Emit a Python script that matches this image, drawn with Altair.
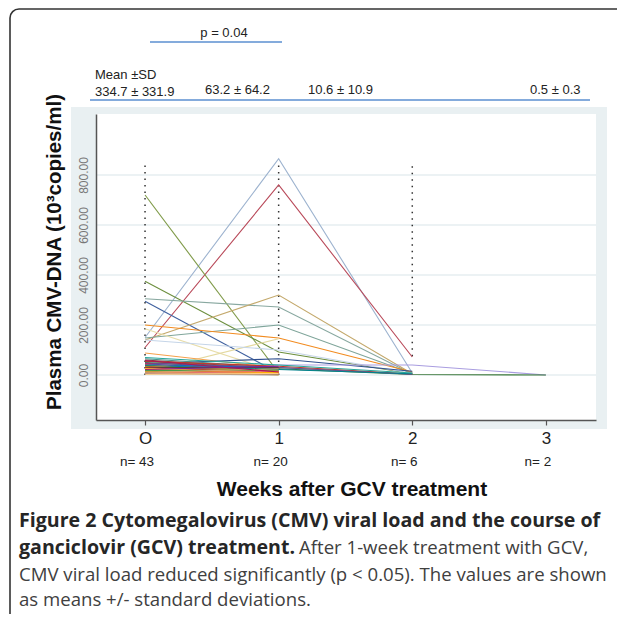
import altair as alt
import pandas as pd

# ---------------- data ----------------
weeks = [0, 1, 2, 3]
week_labels = ["O", "1", "2", "3"]
n_labels = ["n= 43", "n= 20", "n= 6", "n= 2"]
mean_sd = ["334.7 ± 331.9", "63.2 ± 64.2", "10.6 ± 10.9", "0.5 ± 0.3"]
y_ticks = [0, 200, 400, 600, 800]

# per-patient viral load (10^3 copies/ml) at weeks 0,1,2,3
series = [
    [150, 865, 8, None],
    [110, 760, 72, None],
    [720, 8, None, None],
    [375, 92, 5, None],
    [305, 272, 4, None],
    [295, 8, None, None],
    [140, 320, 5, None],
    [148, 200, 6, None],
    [200, 148, 12, None],
    [185, 10, None, None],
    [12, 145, None, None],
    [140, 100, 6, None],
    [88, 28, None, None],
    [45, 65, 15, None],
    [30, 40, 40, 0],
    [55, 25, 2, 0],
    [65, 30, 3, None],
    [60, 25, None, None],
    [55, 35, 4, None],
    [50, 20, None, None],
    [48, 30, 3, None],
    [45, 15, None, None],
    [42, 28, None, None],
    [40, 10, None, None],
    [38, 22, 5, None],
    [35, 5, None, None],
    [33, 18, None, None],
    [30, 30, None, None],
    [28, 12, None, None],
    [26, 0, None, None],
    [25, 8, None, None],
    [22, 35, None, None],
    [20, 5, None, None],
    [18, 20, None, None],
    [15, 3, None, None],
    [12, 10, None, None],
    [10, 25, None, None],
    [8, 2, None, None],
    [6, 15, None, None],
    [5, 0, None, None],
    [3, 6, None, None],
    [70, 40, 8, None],
    [58, 12, None, None],
]
colors = [
    "#9db3cf", "#b94a5a", "#7f9a48", "#6d8f3e", "#88a8a0", "#3e5f9e",
    "#c4a96c", "#7fa59a", "#f28b1f", "#e8dda8", "#e3d9a0", "#c5d5e8",
    "#f5a04a", "#2f4f8f", "#a99de0", "#3d7a3a", "#4a8f8a", "#8b3a3a",
    "#c0392b", "#2e7d32", "#6a4c93", "#d81b60", "#1565c0", "#ef6c00",
    "#00838f", "#b71c1c", "#9e9d24", "#5d4037", "#e53935", "#fdd835",
    "#f9a825", "#7b1fa2", "#c62828", "#43a047", "#8d6e63", "#ffb300",
    "#d4a373", "#bc8a5f", "#e57373", "#a1887f", "#ffcc80", "#26a69a",
    "#ad1457",
]
dot_lo = [0, 0, 75]
dot_hi = [855, 850, 850]

rows = []
for i, vals in enumerate(series):
    for w, v in zip(weeks, vals):
        if v is not None:
            rows.append({"pid": f"p{i:02d}", "week": w, "load": v})
df = pd.DataFrame(rows)
pids = [f"p{i:02d}" for i in range(len(series))]

W, H = 500, 306
XDOM = [-0.367, 3.375]
YDOM = [-180, 1044]
FONT = "Liberation Sans"
CAP = "Open Sans"

one = pd.DataFrame({"a": [0]})
xs = alt.Scale(domain=XDOM, nice=False, zero=False)
ys = alt.Scale(domain=YDOM, nice=False, zero=False)


def box(x, x2, y, y2, **kw):
    return alt.Chart(one).mark_rect(**kw).encode(
        x=alt.value(x), x2=alt.value(x2), y=alt.value(y), y2=alt.value(y2))


def label(text, x, y, **kw):
    return alt.Chart(one).mark_text(text=text, **kw).encode(
        x=alt.value(x), y=alt.value(y))


def hline(x, x2, y, **kw):
    return alt.Chart(one).mark_rule(**kw).encode(
        x=alt.value(x), x2=alt.value(x2), y=alt.value(y))


frame = box(-86, 800, -105, 800, fillOpacity=0, stroke="#333333",
            strokeWidth=1.6, cornerRadius=9)
panel = box(-25, 511, -7, 315, fill="#e9f0f2")
white = box(0, W, 0, H, fill="#ffffff")

grid = alt.Chart(pd.DataFrame({"v": y_ticks})).mark_rule(
    color="#e6eef0", strokeWidth=1.5).encode(
    y=alt.Y("v:Q", scale=ys), x=alt.value(0), x2=alt.value(W))

dots = alt.Chart(pd.DataFrame({"week": weeks[:3], "lo": dot_lo, "hi": dot_hi})).mark_rule(
    color="#333333", strokeWidth=1.5, strokeDash=[1.5, 5]).encode(
    x=alt.X("week:Q", scale=xs), y=alt.Y("lo:Q", scale=ys), y2="hi:Q")

lines = alt.Chart(df).mark_line(strokeWidth=1.1).encode(
    x=alt.X("week:Q", scale=xs,
            axis=alt.Axis(values=weeks, title=None, grid=False, format="d",
                          labelExpr="datum.value == 0 ? 'O' : datum.label",
                          labelFont=FONT, labelFontSize=17, labelColor="#222222",
                          tickSize=5, tickColor="#555555", tickWidth=1.2,
                          labelPadding=5, domainColor="#555555", domainWidth=1.5,
                          zindex=1)),
    y=alt.Y("load:Q", scale=ys,
            axis=alt.Axis(values=y_ticks, title=None, grid=False, format=".2f",
                          labelAngle=270, labelAlign="center", labelBaseline="bottom",
                          labelFont=FONT, labelFontSize=12, labelColor="#777777",
                          tickSize=0, labelPadding=6, domainColor="#555555",
                          domainWidth=1.5, zindex=1)),
    color=alt.Color("pid:N", scale=alt.Scale(domain=pids, range=colors), legend=None),
    order="week:Q",
)

nlab = alt.Chart(pd.DataFrame({"week": weeks, "t": n_labels})).mark_text(
    font=FONT, fontSize=13.5, color="#222222", dx=-8).encode(
    x=alt.X("week:Q", scale=xs), y=alt.value(348), text="t:N")

ytitle = label("Plasma CMV-DNA (10³copies/ml)", -41, 138, angle=270, font=FONT,
               fontSize=20.5, fontWeight="bold", color="#111111", baseline="middle")
xtitle = label("Weeks after GCV treatment", 256, 376, font=FONT, fontSize=21,
               fontWeight="bold", color="#111111", baseline="middle")

tkw = dict(font=FONT, fontSize=13, color="#222222", baseline="middle")
ptext = label("p = 0.04", 128, -81, **tkw)
pline = hline(54, 186, -72, color="#5b8fd0", strokeWidth=1.3)
mean_t = label("Mean ±SD", -1, -39, align="left", **tkw)
ms0 = label(mean_sd[0], -1, -22, align="left", **tkw)
ms1 = label(mean_sd[1], 109, -24, align="left", **tkw)
ms2 = label(mean_sd[2], 212, -24, align="left", **tkw)
ms3 = label(mean_sd[3], 434, -24, align="left", **tkw)
mline = hline(-6, 494, -14, color="#5b8fd0", strokeWidth=1.3)

bkw = dict(font=CAP, fontSize=19.6, fontWeight="bold", align="left",
           baseline="middle", color="#262626")
rkw = dict(font=CAP, fontSize=18.6, align="left", baseline="middle", color="#404040")
cap1 = label("Figure 2 Cytomegalovirus (CMV) viral load and the course of", -77, 407, **bkw)
cap2a = label("ganciclovir (GCV) treatment.", -77, 434, **bkw)
cap2b = label("After 1-week treatment with GCV,", 203, 434, **rkw)
cap3 = label("CMV viral load reduced significantly (p < 0.05). The values are shown", -77, 461, **rkw)
cap4 = label("as means +/- standard deviations.", -77, 486, **rkw)

chart = alt.layer(
    frame, panel, white, grid, dots, lines, nlab, ytitle, xtitle,
    ptext, pline, mean_t, ms0, ms1, ms2, ms3, mline,
    cap1, cap2a, cap2b, cap3, cap4,
).properties(
    width=W, height=H,
    autosize=alt.AutoSizeParams(type="none"),
    padding={"left": 88, "top": 106, "right": 21, "bottom": 194},
).configure_view(stroke=None)

chart.save("out.html", embed_options={"renderer": "svg", "actions": False})
